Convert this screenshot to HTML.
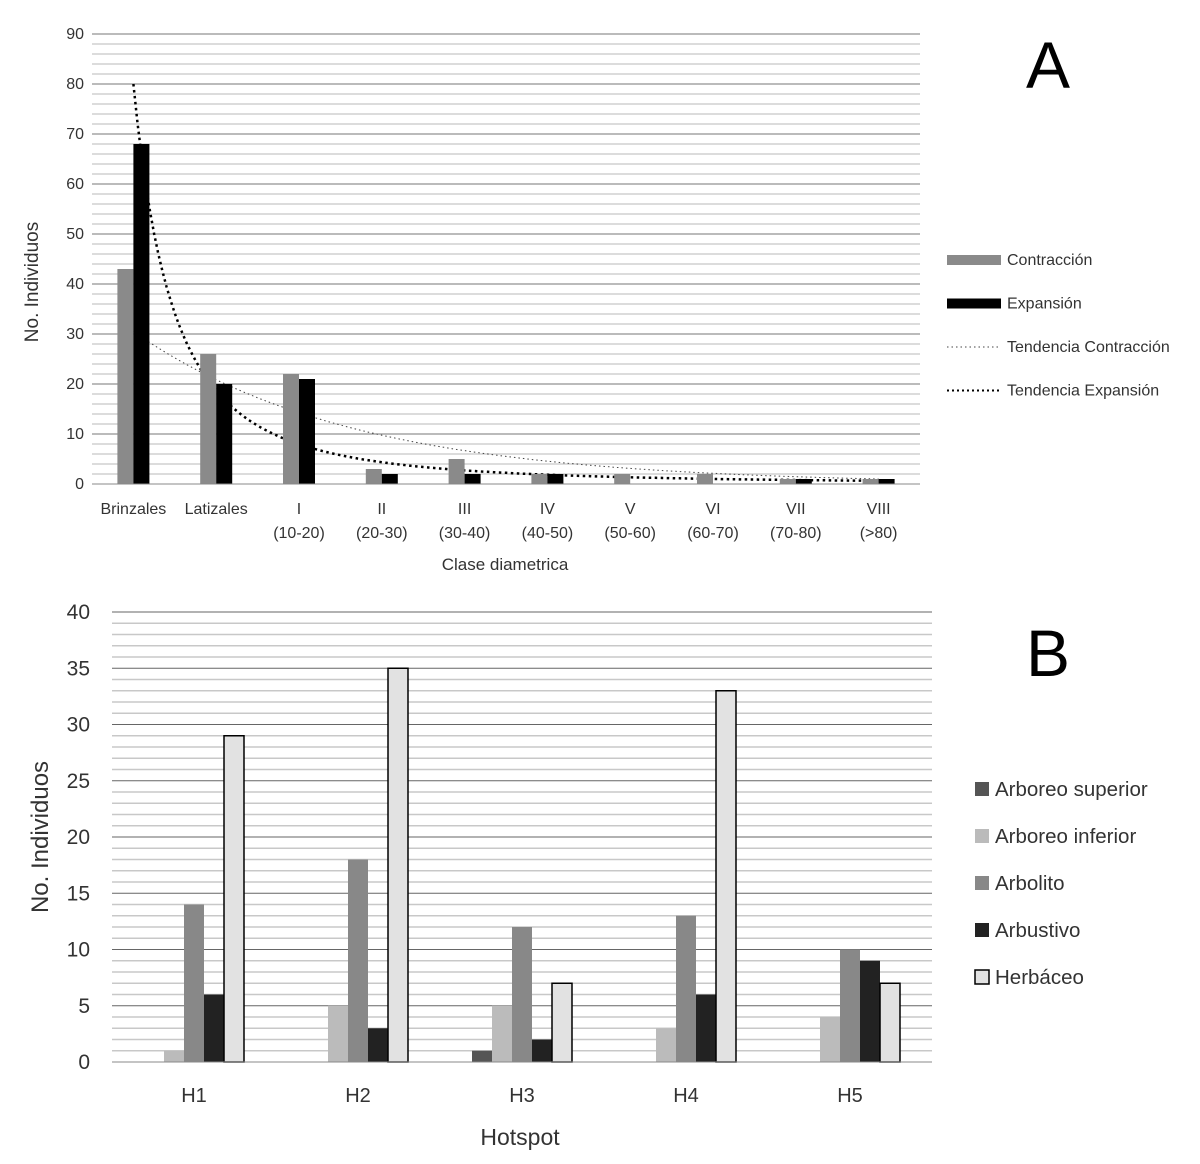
<!DOCTYPE html>
<html><head><meta charset="utf-8">
<style>
html,body{margin:0;padding:0;background:#fff;}
svg{display:block;font-family:"Liberation Sans","DejaVu Sans",sans-serif;}
</style></head>
<body>
<svg id="chart" width="1200" height="1164" viewBox="0 0 1200 1164" xmlns="http://www.w3.org/2000/svg"></svg>
<script>
// ---- Chart A data ----
const catsA = ["Brinzales","Latizales","I","II","III","IV","V","VI","VII","VIII"];
const catsA2 = ["","","(10-20)","(20-30)","(30-40)","(40-50)","(50-60)","(60-70)","(70-80)","(>80)"];
const contraccion = [43,26,22,3,5,2,2,2,1,1];
const expansion = [68,20,21,2,2,2,0,0,1,1];
const trendContr = [30.5, 0.38];   // a*exp(-k*(x-1))
const trendExp = [80, -2.1];       // a*x^b
const ticksA = [0,10,20,30,40,50,60,70,80,90];
// ---- Chart B data ----
const catsB = ["H1","H2","H3","H4","H5"];
const seriesBNames = ["Arboreo superior","Arboreo inferior","Arbolito","Arbustivo","Herbáceo"];
const arbSup = [0,0,1,0,0];
const arbInf = [1,5,5,3,4];
const arbolito = [14,18,12,13,10];
const arbustivo = [6,3,2,6,9];
const herbaceo = [29,35,7,33,7];
const ticksB = [0,5,10,15,20,25,30,35,40];

const svg = document.getElementById('chart');
const NS = "http://www.w3.org/2000/svg";
function mk(tag, attrs, parent){const e=document.createElementNS(NS,tag);for(const k in attrs)e.setAttribute(k,attrs[k]);(parent||svg).appendChild(e);return e;}
function txt(s, attrs, parent){const e=mk('text',attrs,parent);e.textContent=s;return e;}

// ===== Chart A =====
const A = {x0:92,x1:920,y0:484,y1:34,max:90};
const yA = v => A.y0 - v/A.max*(A.y0-A.y1);
const bwA = (A.x1-A.x0)/catsA.length;
const cxA = i => A.x0 + bwA*(i+0.5);
const gA = mk('g',{});


for(let v=0; v<=90; v+=2){
  const major = v%10===0;
  const l = mk('line',{x1:A.x0,x2:A.x1,y1:yA(v),y2:yA(v),stroke:major?'#777':'#d0d0d0','stroke-width':major?1:1.5},gA);
  
  
}
ticksA.forEach(v=>{
  const t = txt(String(v),{x:84,y:yA(v)+5,'text-anchor':'end','font-size':16,fill:'#333'},gA);
  
  
});
// trendlines (behind bars)
let pc=[], pe=[];
for(let s=0;s<=180;s++){
  const x = 1 + s*9/180;
  const px = cxA(x-1);
  pc.push(px.toFixed(1)+','+yA(trendContr[0]*Math.exp(-trendContr[1]*(x-1))).toFixed(1));
  pe.push(px.toFixed(1)+','+yA(trendExp[0]*Math.pow(x,trendExp[1])).toFixed(1));
}
const tc = mk('polyline',{points:pc.join(' '),fill:'none',stroke:'#444','stroke-width':1,'stroke-dasharray':'1.5,3'},gA);


const te = mk('polyline',{points:pe.join(' '),fill:'none',stroke:'#000','stroke-width':2.5,'stroke-dasharray':'2.5,3.5'},gA);


catsA.forEach((c,i)=>{
  const b1 = mk('rect',{x:cxA(i)-16,y:yA(contraccion[i]),width:16,height:A.y0-yA(contraccion[i]),fill:'#8a8a8a'},gA);
  
  
  const b2 = mk('rect',{x:cxA(i),y:yA(expansion[i]),width:16,height:A.y0-yA(expansion[i]),fill:'#000'},gA);
  
  
  const t1 = txt(c,{x:cxA(i),y:514,'text-anchor':'middle','font-size':16,fill:'#333'},gA);
  
  
  if(catsA2[i]){
    const t2 = txt(catsA2[i],{x:cxA(i),y:538,'text-anchor':'middle','font-size':16,fill:'#333'},gA);
    
    
  }
});
const axA = mk('line',{x1:A.x0,x2:A.x1,y1:A.y0,y2:A.y0,stroke:'#888','stroke-width':1},gA);


const xtA = txt('Clase diametrica',{x:505,y:570,'text-anchor':'middle','font-size':17,fill:'#333'},gA);


const ytA = txt('No. Individuos',{x:0,y:0,'text-anchor':'middle','font-size':19,fill:'#333',transform:'translate(38,282) rotate(-90)'},gA);


const lbA = txt('A',{x:1048,y:88,'text-anchor':'middle','font-size':66,fill:'#000'},gA);


// legend A
const legA = [['Contracción','bar','#8a8a8a'],['Expansión','bar','#000'],['Tendencia Contracción','thin','#444'],['Tendencia Expansión','thick','#000']];
legA.forEach((L,i)=>{
  const y = 260 + i*43.5;
  let sw;
  if(L[1]==='bar') sw = mk('rect',{x:947,y:y-5,width:54,height:10,fill:L[2]},gA);
  else sw = mk('line',{x1:947,x2:1000,y1:y,y2:y,stroke:L[2],'stroke-width':L[1]==='thin'?1:2,'stroke-dasharray':L[1]==='thin'?'1.5,3':'2,3'},gA);
  
  
  const t = txt(L[0],{x:1007,y:y+5,'font-size':16,fill:'#333'},gA);
  
  
});

// ===== Chart B =====
const B = {x0:112,x1:932,y0:1062,y1:612,max:40};
const yB = v => B.y0 - v/B.max*(B.y0-B.y1);
const gwB = (B.x1-B.x0)/catsB.length;
const cxB = i => B.x0 + gwB*(i+0.5);
const gB = mk('g',{});


for(let v=0; v<=40; v++){
  const major = v%5===0;
  const l = mk('line',{x1:B.x0,x2:B.x1,y1:yB(v),y2:yB(v),stroke:major?'#666':'#c8c8c8','stroke-width':major?1:1.5},gB);
  
  
}
ticksB.forEach(v=>{
  const t = txt(String(v),{x:90,y:yB(v)+7,'text-anchor':'end','font-size':21,fill:'#333'},gB);
  
  
});
const seriesB = [arbSup,arbInf,arbolito,arbustivo,herbaceo];
const colB = ['#555','#bbb','#888','#222','#e2e2e2'];
const bw = 20;
catsB.forEach((c,i)=>{
  seriesB.forEach((s,j)=>{
    const x = cxB(i) - 2.5*bw + j*bw;
    const attrs = {x:x,y:yB(s[i]),width:bw,height:B.y0-yB(s[i]),fill:colB[j]};
    if(j===4){attrs.stroke='#000';attrs['stroke-width']=1.5;}
    const r = mk('rect',attrs,gB);
    
    
  });
  const t = txt(c,{x:cxB(i),y:1102,'text-anchor':'middle','font-size':20,fill:'#333'},gB);
  
  
});
const axB = mk('line',{x1:B.x0,x2:B.x1,y1:B.y0,y2:B.y0,stroke:'#888','stroke-width':1},gB);


const xtB = txt('Hotspot',{x:520,y:1145,'text-anchor':'middle','font-size':23,fill:'#333'},gB);


const ytB = txt('No. Individuos',{x:0,y:0,'text-anchor':'middle','font-size':24,fill:'#333',transform:'translate(48,837) rotate(-90)'},gB);


const lbB = txt('B',{x:1048,y:676,'text-anchor':'middle','font-size':66,fill:'#000'},gB);


seriesBNames.forEach((n,j)=>{
  const y = 789 + j*47;
  const sw = mk('rect',{x:975,y:y-7,width:14,height:14,fill:colB[j],stroke:j===4?'#000':'none','stroke-width':1.5},gB);
  
  
  const t = txt(n,{x:995,y:y+7,'font-size':20.5,fill:'#333'},gB);
  
  
});
</script>
</body></html>
